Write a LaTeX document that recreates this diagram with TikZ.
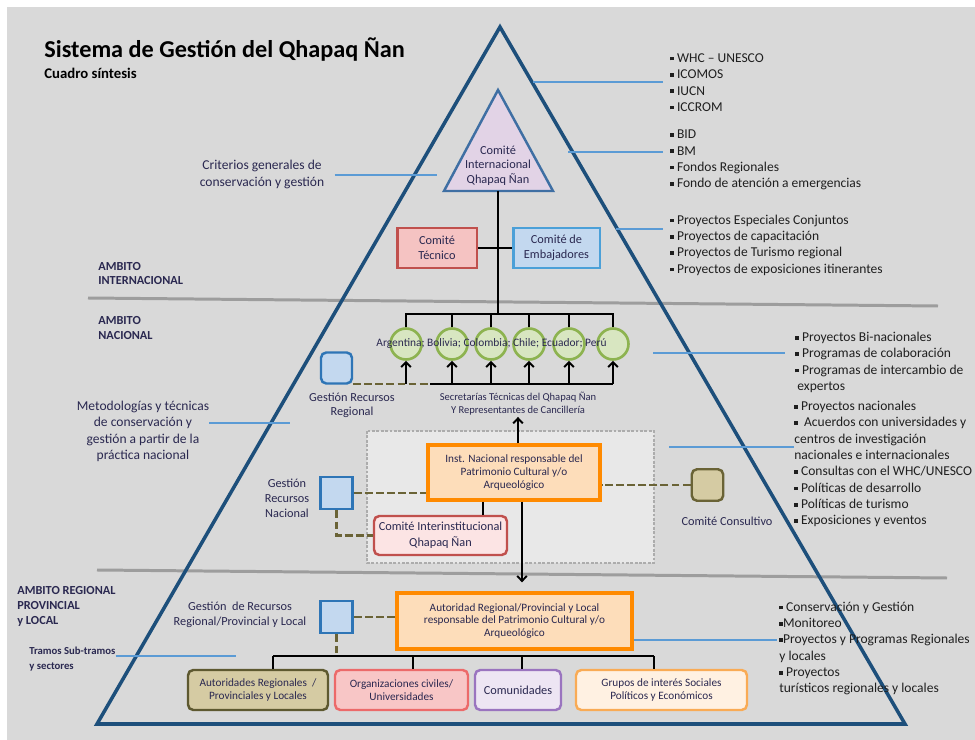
\documentclass[tikz,border=0pt]{standalone}
\usepackage{fontspec}
\setmainfont{Carlito}
\usetikzlibrary{arrows.meta, positioning, calc}
\definecolor{fondo}{HTML}{D9D9D9}
\definecolor{fondoC}{HTML}{E8E8E8}
\definecolor{ink}{HTML}{2A2850}
\definecolor{piram}{HTML}{1D4F7B}
\definecolor{guia}{HTML}{5B9BD5}
\definecolor{sepgris}{HTML}{9D9D9D}
\definecolor{oliva}{HTML}{6A6336}
\definecolor{olivaB}{HTML}{5E5930}
\definecolor{arena}{HTML}{D5CBA3}
\definecolor{rojo}{HTML}{C0504D}
\definecolor{rosa}{HTML}{F5C3C2}
\definecolor{rosaL}{HTML}{FCE4E4}
\definecolor{rosaB}{HTML}{EC6A6A}
\definecolor{rosaC}{HTML}{F8C6C6}
\definecolor{azul}{HTML}{2E75B6}
\definecolor{azulC}{HTML}{C3D8EF}
\definecolor{celeste}{HTML}{4BA0D8}
\definecolor{lila}{HTML}{E2D3E6}
\definecolor{lilaB}{HTML}{3F6FA3}
\definecolor{verde}{HTML}{8DB350}
\definecolor{verdeC}{HTML}{D8E6C1}
\definecolor{naranja}{HTML}{FF8A00}
\definecolor{naranjaC}{HTML}{FDDDBA}
\definecolor{naranjaB}{HTML}{F9AB55}
\definecolor{crema}{HTML}{FFF1E2}
\definecolor{morado}{HTML}{9A74BF}
\definecolor{moradoC}{HTML}{EDE5F3}
\newcommand{\tam}[2]{\fontsize{#1}{#2}\selectfont}
\newcommand{\vin}{\raisebox{0.14em}{\rule{0.27em}{0.27em}}}% vineta cuadrada
\tikzset{
  etiq/.style = {align=center, inner sep=0pt, text=ink, font=\tam{7}{8.3}},% texto suelto
  ambito/.style = {anchor=west, align=left, inner sep=0pt, text=ink,
    font=\bfseries\tam{7}{8.5}},% nombre del ambito
  lista/.style = {anchor=west, align=left, inner sep=0pt, text=black!88,
    font=\tam{7.7}{9.3}},% listas de la derecha
  guia_l/.style = {draw=guia, line width=0.7pt},% linea indicadora
  conec/.style = {draw=black, line width=1.1pt},
  conec_d/.style = {draw=oliva, line width=1.4pt, dash pattern=on 4.5pt off 1.8pt},
  caja/.style = {align=center, inner sep=0pt, text=ink, line width=1.7pt,
    font=\tam{7}{8.5}},
  caja_r/.style = {caja, rounded corners=3pt, line width=1.4pt, font=\tam{6.4}{7.6}},
  cuad/.style = {draw=azul, fill=azulC, line width=1.7pt, minimum size=0.64cm,
    inner sep=0pt},% recursos
  pais/.style = {circle, draw=verde, fill=verdeC, line width=1.5pt,
    minimum size=0.62cm, inner sep=0pt}
}
\begin{document}
\begin{tikzpicture}[x=0.02cm, y=-0.02cm, >={Straight Barb[length=2.8pt,width=5.5pt]}]
\useasboundingbox (0,0) rectangle (975,740);
\fill[fondo] (7,7) rectangle (975,740);
% separadores
\draw[sepgris, line width=1.7pt] (88,298) -- (938,306);
\draw[sepgris, line width=1.7pt] (97,570) -- (947,578);
% piramide
\draw[piram, line width=2pt] (500,27) -- (905,724) -- (97,724) -- cycle;

\node[anchor=base west, inner sep=0pt, font=\bfseries\tam{13.8}{16}] (titulo) at (44,57.5)
  {Sistema de Gestión del Qhapaq Ñan};
\node[anchor=base west, inner sep=0pt, font=\bfseries\tam{8.4}{10}] (subt) at (44,79)
  {Cuadro síntesis};
\node[ambito] (a_int) at (98,273.5) {AMBITO\\INTERNACIONAL};
\node[ambito] (a_nac) at (98,328) {AMBITO\\NACIONAL};
\node[ambito] (a_reg) at (17,606.5) {AMBITO REGIONAL\\PROVINCIAL\\y LOCAL};

% ambito internacional
\draw[draw=lilaB, fill=lila, line width=1.4pt] (498,90) -- (553,191) -- (444,191) -- cycle;
\node[etiq, font=\tam{7}{8.2}] (cint) at (498,165.5) {Comité\\Internacional\\Qhapaq Ñan};
\coordinate (cint_b) at (498,191);
\node[caja, draw=rojo, fill=rosa, minimum width=1.6cm, minimum height=0.8cm] (ctec)
  at (437,248) {Comité\\Técnico};
\node[caja, draw=celeste, fill=azulC, minimum width=1.74cm, minimum height=0.8cm] (cemb)
  at (556.5,248) {Comité de\\Embajadores};

% paises
\foreach \p [count=\i] in {406,452,491,529,569,613}
  \node[pais] (c\i) at (\p,344) {};
\node[etiq, font=\tam{6.5}{7.8}] (paises) at (491.5,344)
  {Argentina; Bolivia; Colombia; Chile; Ecuador; Perú};
\coordinate (bar_t) at (498,314);
\coordinate (bar_b) at (430,384);
\draw[conec] (cint_b) -- (bar_t);
\draw[conec] (ctec.east) -- (cemb.west);
\draw[conec] (c1.north) |- (bar_t) -| (c6.north);
\foreach \i in {2,...,5} \draw[conec] (c\i.north) -- (c\i.north |- bar_t);
\draw[conec] (bar_b) -- (c6.south |- bar_b);
\foreach \i in {1,...,6} \draw[conec,->] (c\i.south |- bar_b) -- (c\i.south);

\node[cuad, rounded corners=3pt, line width=1.4pt, minimum size=0.62cm] (greg) at (336.5,368) {};
\node[etiq, font=\tam{7}{8}] (greg_t) at (352,405) {Gestión Recursos\\Regional};
\draw[conec_d] (greg.south east |- bar_b) -- (bar_b);
\node[etiq, font=\tam{6}{7.2}] (secr) at (518,403.5)
  {Secretarías Técnicas del Qhapaq Ñan\\Y Representantes de Cancillería};

% ambito nacional
\draw[sepgris!85, fill=fondoC, line width=1.7pt, dash pattern=on 1.6pt off 0.9pt]
  (367,431) rectangle (654,563);
\node[caja, draw=naranja, fill=naranjaC, line width=2pt, minimum width=3.44cm,
  minimum height=1.1cm, font=\tam{6.4}{7.2}] (inst) at (514,472.5)
  {Inst. Nacional responsable del\\Patrimonio Cultural y/o\\Arqueológico};
\node[caja_r, draw=rojo, fill=rosaL, minimum width=2.66cm, minimum height=0.78cm,
  font=\tam{7}{9}] (cinter) at (440.5,535.5) {Comité Interinstitucional\\Qhapaq Ñan};
\node[cuad] (gnac) at (336.5,493) {};
\node[etiq, font=\tam{7}{8.5}] (gnac_t) at (287,498) {Gestión\\Recursos\\Nacional};
\node[cuad, draw=oliva, fill=arena, rounded corners=3pt, line width=1.4pt,
  minimum size=0.63cm] (ccons) at (707.5,485) {};
\node[etiq] (ccons_t) at (727,521) {Comité Consultivo};
\draw[conec_d] (gnac.east) -- (gnac.east -| inst.west);
\draw[conec_d] (gnac.south) |- (cinter.west);
\draw[conec_d] (ccons.west) -- (ccons.west -| inst.east);
\draw[conec] ([xshift=-0.62cm]inst.south) -- ([xshift=-0.62cm]inst.south |- cinter.north);
\draw[conec,->, shorten >=1pt] (secr.south |- inst.north) -- (secr.south);

% ambito regional
\node[caja, draw=naranja, fill=naranjaC, line width=2.2pt, minimum width=4.7cm,
  minimum height=1.12cm, font=\tam{6.4}{7.2}] (aut) at (514.5,621)
  {Autoridad Regional/Provincial y Local\\responsable del Patrimonio Cultural y/o\\Arqueológico};
\draw[conec,->, shorten >=5pt] ([xshift=0.16cm]inst.south) -- ([xshift=0.16cm]inst.south |- aut.north);
\node[cuad] (gloc) at (336.5,617) {};
\node[etiq, font=\tam{7}{8.5}] (gloc_t) at (240,614.5)
  {Gestión\ \ de Recursos\\Regional/Provincial y Local};
\node[caja_r, draw=olivaB, fill=arena, minimum width=2.8cm, minimum height=0.8cm] (b1)
  at (258,690) {Autoridades Regionales\ \ /\\Provinciales y Locales};
\node[caja_r, draw=rosaB, fill=rosaC, minimum width=2.66cm, minimum height=0.8cm] (b2)
  at (401.5,690) {Organizaciones civiles/\\Universidades};
\node[caja_r, draw=morado, fill=moradoC, minimum width=1.72cm, minimum height=0.8cm,
  font=\tam{7}{8}] (b3) at (518,690) {Comunidades};
\node[caja_r, draw=naranjaB, fill=crema, minimum width=3.42cm, minimum height=0.8cm] (b4)
  at (661.5,690) {Grupos de interés Sociales\\Políticos y Económicos};
\foreach \x [count=\i] in {273,413,522,654} \coordinate (r\i) at (\x,656);
\draw[conec] (r1) -- (r4);
\foreach \i in {1,...,4} \draw[conec] (r\i) -- (r\i |- b\i.north);
\draw[conec_d] (gloc.east) -- (gloc.east -| aut.west);
\draw[conec_d] (gloc.south) -- (gloc.south |- r1);

% textos de la izquierda
\node[etiq, font=\tam{7.7}{9.6}] (crit) at (262,174.5) {Criterios generales de\\conservación y gestión};
\node[etiq, font=\tam{7.7}{9.3}] (metod) at (143,431.5)
  {Metodologías y técnicas\\de conservación y\\gestión a partir de la\\práctica nacional};
\node[ambito, font=\bfseries\tam{6.1}{8.5}] (tramos) at (29,659.5) {Tramos Sub-tramos\\y sectores};
\coordinate (p_crit) at (437,175);
\coordinate (p_met) at (290,423);
\coordinate (p_tra) at (236,656);
\draw[guia_l] ([xshift=0.2cm]crit.east |- p_crit) -- (p_crit);
\draw[guia_l] (metod.east |- p_met) -- (p_met);
\draw[guia_l] (tramos.east |- p_tra) -- (p_tra);

% listas de la derecha
\node[lista] (l1) at (670,82.5) {\vin\ WHC -- UNESCO\\\vin\ ICOMOS\\\vin\ IUCN\\\vin\ ICCROM};
\node[lista] (l2) at (670,160) {\vin\ BID\\\vin\ BM\\\vin\ Fondos Regionales\\\vin\ Fondo de atención a emergencias};
\node[lista] (l3) at (670,245) {\vin\ Proyectos Especiales Conjuntos\\\vin\ Proyectos de capacitación\\
  \vin\ Proyectos de Turismo regional\\\vin\ Proyectos de exposiciones itinerantes};
\node[lista] (l4) at (795,362.5) {\vin\ Proyectos Bi-nacionales\\\vin\ Programas de colaboración\\
  \vin\ Programas de intercambio de\\\hspace{0.15em}expertos};
\node[lista] (l5) at (794,464) {\vin\ Proyectos nacionales\\\vin\ \ Acuerdos con universidades y\\
  centros de investigación\\nacionales e internacionales\\\vin\ Consultas con el WHC/UNESCO\\
  \vin\ Políticas de desarrollo\\\vin\ Políticas de turismo\\\vin\ Exposiciones y eventos};
\node[lista] (l6) at (779,648.5) {\vin\ Conservación y Gestión\\\vin Monitoreo\\
  \vin Proyectos y Programas Regionales\\y locales\\\vin\ Proyectos\\turísticos regionales y locales};
\coordinate (p_l1) at (533,82);
\coordinate (p_l2) at (568,152);
\coordinate (p_l3) at (616,229);
\coordinate (p_l4) at (653,353);
\coordinate (p_l5) at (669,447);
\coordinate (p_l6) at (777,640);
\foreach \i/\s in {1/4pt,2/4pt,3/4pt,4/5.5pt,5/0pt}
  \draw[guia_l, shorten >=\s] (p_l\i) -- (p_l\i -| l\i.west);
\draw[guia_l] (aut.east |- p_l6) -- (p_l6);
\end{tikzpicture}
\end{document}
